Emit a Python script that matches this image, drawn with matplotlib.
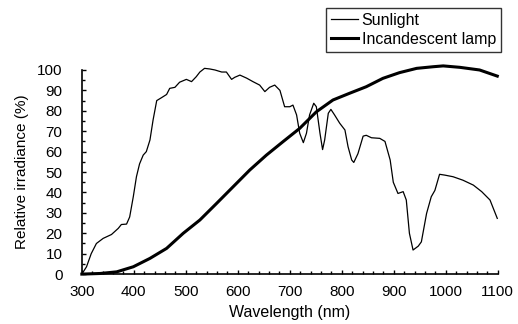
import matplotlib
matplotlib.use("Agg")
import matplotlib.pyplot as plt
from matplotlib.ticker import MultipleLocator

plt.rcParams['font.family'] = ['Liberation Sans', 'DejaVu Sans']

# Sunlight spectrum
sun_wl = [300, 309, 318, 328, 341, 357, 370, 376, 386, 392, 399, 405, 411, 418, 424,
          431, 437, 444, 453, 463, 469, 479, 488, 501, 511, 520, 527, 536, 546, 556,
          569, 578, 588, 594, 604, 617, 629, 642, 652, 661, 671, 681, 690, 700, 706,
          713, 719, 726, 732, 738, 746, 751, 758, 763, 767, 774, 779, 786, 796, 806,
          812, 819, 823, 831, 841, 847, 857, 873, 883, 893, 899, 908, 918, 924, 930,
          937, 947, 953, 963, 972, 979, 988, 998, 1014, 1033, 1053, 1069, 1085, 1099]
sun_val = [0, 3.6, 10, 15, 17.5, 19.4, 22.4, 24.3, 24.5, 28, 38, 47.7, 54, 58.3, 60,
           65.7, 75.5, 85, 86.4, 88, 91, 91.5, 94, 95.4, 94.3, 96.7, 99, 100.8, 100.5, 100,
           99, 99, 95.4, 96.4, 97.5, 96, 94.3, 92.6, 89.4, 91.5, 92.6, 90, 82, 82, 82.8,
           78, 69, 64.4, 69, 78, 83.7, 82, 69, 61, 65.7, 78.8, 80.7, 78, 73.9, 70.6,
           62.4, 55.9, 54.7, 59, 67.6, 68, 66.8, 66.5, 65, 55.9, 45, 39.5, 40.4, 36.3, 20,
           11.8, 13.7, 15.8, 29.7, 37.9, 41, 48.9, 48.5, 47.7, 46, 43.6, 40.4, 36.3, 27.3]

# Incandescent lamp spectrum
lamp_wl = [300, 335, 367, 399, 431, 463, 495, 527, 559, 591, 623, 655, 687, 719,
           751, 783, 815, 847, 879, 911, 944, 976, 995, 1027, 1065, 1099]
lamp_val = [0, 0.3, 1.1, 3.6, 7.7, 12.6, 20, 26.5, 34.6, 42.8, 51, 58.3, 64.9, 71.4,
            79.5, 85.3, 88.6, 91.8, 95.9, 98.7, 100.8, 101.6, 102, 101.3, 100, 97]

fig = plt.figure(figsize=(5.18, 3.24), dpi=100)
ax = fig.add_axes([0.158, 0.154, 0.803, 0.63])

ax.plot(sun_wl, sun_val, color='black', lw=0.9, label='Sunlight', clip_on=False)
ax.plot(lamp_wl, lamp_val, color='black', lw=2.2, label='Incandescent lamp', clip_on=False)

ax.set_xlim(300, 1100)
ax.set_ylim(0, 100)
ax.xaxis.set_major_locator(MultipleLocator(100))
ax.xaxis.set_minor_locator(MultipleLocator(20))
ax.yaxis.set_major_locator(MultipleLocator(10))
ax.yaxis.set_minor_locator(MultipleLocator(5))
ax.tick_params(which='both', direction='in', labelsize=11)
ax.tick_params(which='major', length=3, width=1)
ax.tick_params(which='minor', length=2, width=1)
ax.tick_params(axis='x', pad=8)
ax.tick_params(axis='y', pad=14)
ax.spines['top'].set_visible(False)
ax.spines['right'].set_visible(False)
ax.spines['left'].set_linewidth(1.2)
ax.spines['bottom'].set_linewidth(1.2)

ax.set_xlabel('Wavelength (nm)', fontsize=11.5, labelpad=4)
ax.set_ylabel('Relative irradiance (%)', fontsize=11, labelpad=6)

leg = fig.legend(loc='upper left', bbox_to_anchor=(0.629, 0.975), fontsize=11.5,
                 frameon=True, fancybox=False, handlelength=1.7, handletextpad=0.25,
                 borderpad=0.3, labelspacing=0.25, borderaxespad=0)
leg.get_frame().set_edgecolor('black')
leg.get_frame().set_linewidth(1.0)

fig.savefig('out.png', dpi=100)
